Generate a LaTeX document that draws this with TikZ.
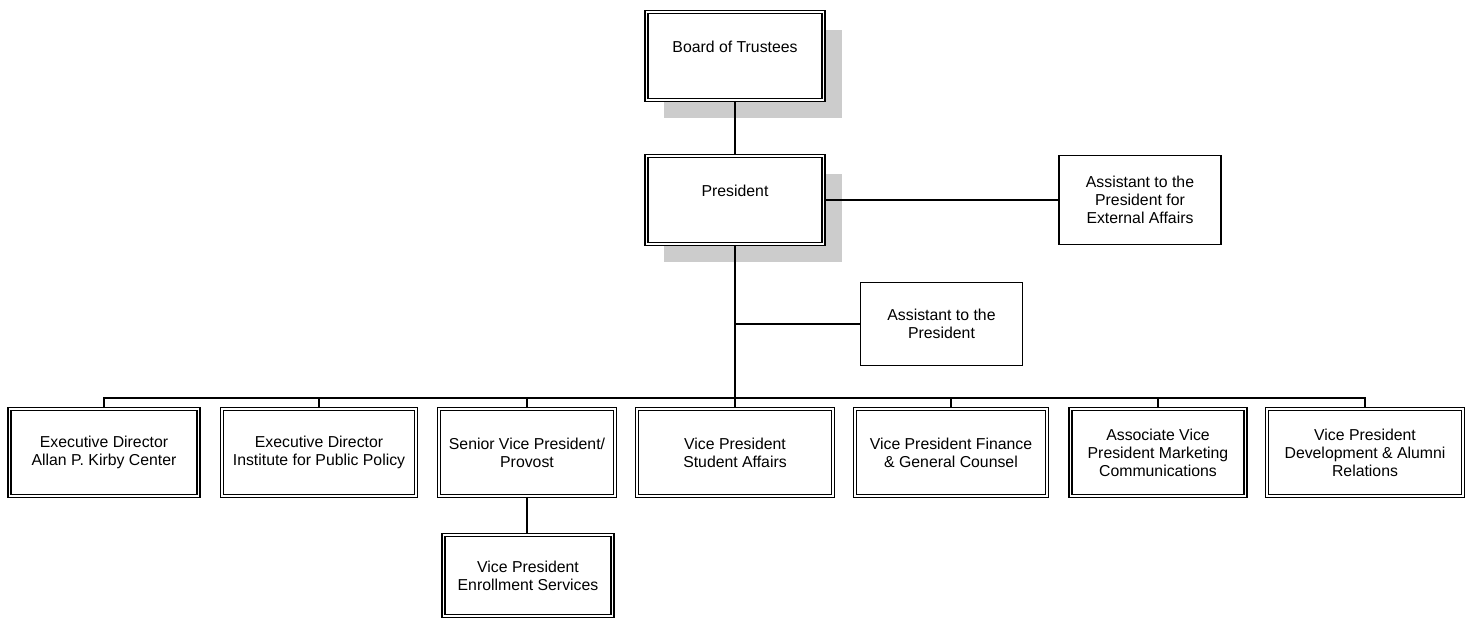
\documentclass[tikz,border=0pt]{standalone}
\usepackage{fontspec}
\setmainfont{Liberation Sans}
\usetikzlibrary{shadows}
\begin{document}
\begin{tikzpicture}[x=0.02cm, y=-0.02cm,
		font=\fontsize{9}{10.2}\selectfont,
		office/.style={draw, double, double distance=0.7pt, line width=1pt, fill=white, align=center, inner sep=0pt},
		chief/.style={office, drop shadow={shadow xshift=0.36cm, shadow yshift=-0.36cm, fill=black!20, opacity=1}},
		aide/.style={draw, line width=0.9pt, fill=white, align=center, inner sep=0pt},
		link/.style={line width=0.9pt}]
		\useasboundingbox (0,0) rectangle (1472,620);
		
		\node[chief, minimum width=3.55cm, minimum height=1.76cm] (board) at (735,56) {Board of Trustees\\\phantom{B}};
		\node[chief, minimum width=3.55cm, minimum height=1.76cm] (pres) at (735,200) {President\\\phantom{P}};
		\node[aide, minimum width=3.24cm, minimum height=1.78cm] (asstext) at (1140,200) {Assistant to the\\President for\\External Affairs};
		\node[aide, minimum width=3.24cm, minimum height=1.66cm] (asst) at (941.5,324) {Assistant to the\\President};
		
		\node[office, minimum width=3.78cm, minimum height=1.74cm] (kirby) at (104,452.5) {Executive Director\\Allan P. Kirby Center};
		\node[office, minimum width=3.88cm, minimum height=1.74cm] (ipp) at (319,452.5) {Executive Director\\Institute for Public Policy};
		\node[office, minimum width=3.52cm, minimum height=1.74cm] (provost) at (527,452.5) {Senior Vice President/\\Provost};
		\node[office, minimum width=3.92cm, minimum height=1.74cm] (student) at (735,452.5) {Vice President\\Student Affairs};
		\node[office, minimum width=3.84cm, minimum height=1.74cm] (finance) at (951,452.5) {Vice President Finance\\\& General Counsel};
		\node[office, minimum width=3.50cm, minimum height=1.74cm] (marketing) at (1158,452.5) {Associate Vice\\President Marketing\\Communications};
		\node[office, minimum width=3.92cm, minimum height=1.74cm] (alumni) at (1365,452.5) {Vice President\\Development \& Alumni\\Relations};
		\node[office, minimum width=3.38cm, minimum height=1.62cm] (enroll) at (528,575.5) {Vice President\\Enrollment Services};
		
		\coordinate (bus) at (735,398);
		
		\draw[link] (board) -- (pres);
		\draw[link] (pres.east) -- (asstext.west);
		\draw[link] (pres) -- (student);
		\draw[link] (asst.west) -- (asst.west -| pres.south);
		\draw[link] (kirby.north) -- (kirby.north |- bus) -| (alumni.north);
		\foreach \unit in {ipp, provost, finance, marketing}
			\draw[link] (\unit.north) -- (\unit.north |- bus);
		\draw[link] (provost.south) -- (provost.south |- enroll.north);
	\end{tikzpicture}
\end{document}
